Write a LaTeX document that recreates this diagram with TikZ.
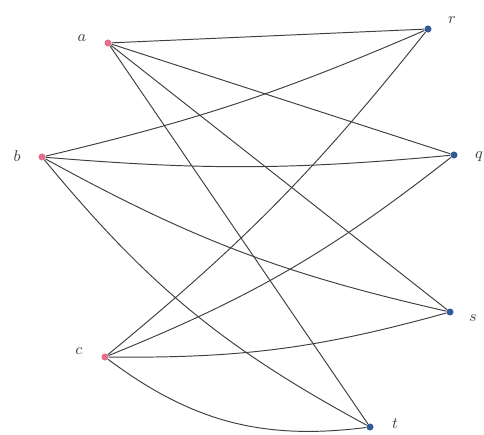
\documentclass[tikz,border=0pt]{standalone}
\usepackage{tikz}
\usetikzlibrary{positioning}
\definecolor{dotred}{RGB}{228,110,140}
\definecolor{dotblue}{RGB}{50,90,150}

\begin{document}
\begin{tikzpicture}[
  x=0.02cm, y=-0.02cm,
  left/.style={circle, fill=dotred, inner sep=0pt, minimum size=4pt},
  right/.style={circle, fill=dotblue, inner sep=0pt, minimum size=4pt},
  lbl/.style={font=\small, text=black!75},
  edge/.style={draw=black!75, line width=0.55pt}
]
\useasboundingbox (0,0) rectangle (484,435);

% left side
\node[left] (a) at (108, 43) {};
\node[left] (b) at (42, 157) {};
\node[left] (c) at (105, 357) {};

% right side
\node[right] (r) at (428, 29) {};
\node[right] (q) at (454, 155) {};
\node[right] (s) at (450, 312) {};
\node[right] (t) at (370, 427) {};

\node[lbl] at (82, 38) {$a$};
\node[lbl] at (17, 156) {$b$};
\node[lbl] at (79, 351) {$c$};
\node[lbl] at (452, 20) {$r$};
\node[lbl] at (479, 157) {$q$};
\node[lbl] at (473, 318) {$s$};
\node[lbl] at (395, 424) {$t$};

\draw[edge] (a) -- (r);
\draw[edge] (a) -- (q);
\draw[edge] (a) -- (s);
\draw[edge] (a) -- (t);

\draw[edge] (b) to[bend right=5] (r);
\draw[edge] (b) to[bend right=5] (q);
\draw[edge] (b) to[bend right=8] (s);
\draw[edge] (b) to[bend right=11] (t);

\draw[edge] (c) to[bend right=6] (r);
\draw[edge] (c) to[bend right=8] (q);
\draw[edge] (c) to[bend right=8] (s);
\draw[edge] (c) to[bend right=22] (t);

\end{tikzpicture}
\end{document}
